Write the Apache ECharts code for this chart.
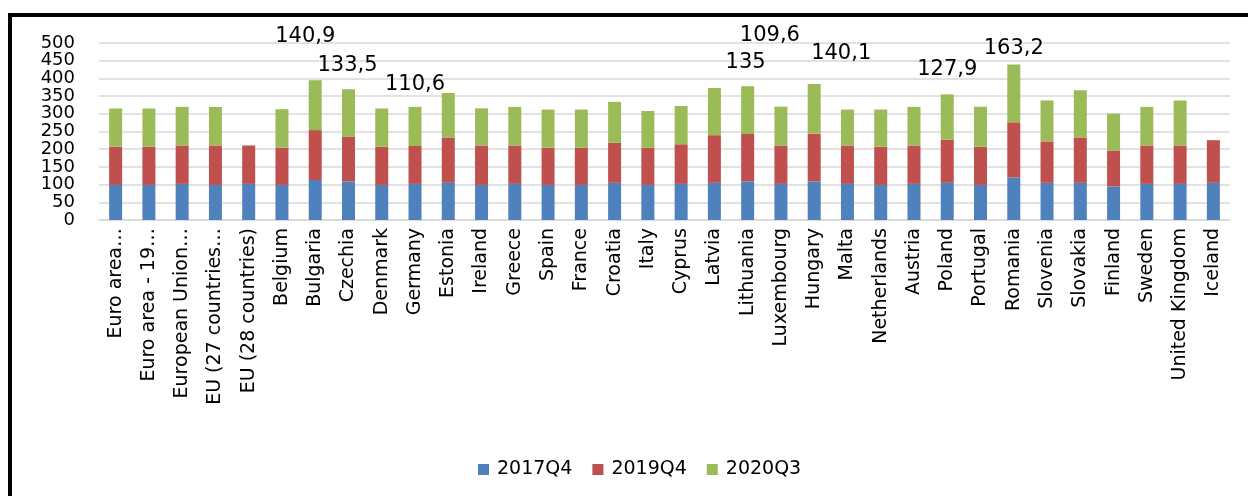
<!DOCTYPE html>
<html>
<head>
<meta charset="utf-8">
<script src="https://cdn.jsdelivr.net/npm/echarts@6/dist/echarts.min.js"></script>
<style>
  html, body { margin: 0; padding: 0; background: #fff; }
  #frame { position: absolute; left: 8px; top: 13px; width: 1260px; height: 500px;
           border-left: 4px solid #000; border-top: 4px solid #000; box-sizing: border-box; }
  #chart { position: absolute; left: 0; top: 0; width: 1248px; height: 496px; }
</style>
</head>
<body>
<div id="frame"></div>
<div id="chart"></div>
<script>
// ---- data ----
const categories = [
  'Euro area…', 'Euro area - 19…', 'European Union…', 'EU (27 countries…', 'EU (28 countries)',
  'Belgium', 'Bulgaria', 'Czechia', 'Denmark', 'Germany', 'Estonia', 'Ireland', 'Greece',
  'Spain', 'France', 'Croatia', 'Italy', 'Cyprus', 'Latvia', 'Lithuania', 'Luxembourg',
  'Hungary', 'Malta', 'Netherlands', 'Austria', 'Poland', 'Portugal', 'Romania', 'Slovenia',
  'Slovakia', 'Finland', 'Sweden', 'United Kingdom', 'Iceland'
];
const seriesNames = ['2017Q4', '2019Q4', '2020Q3'];
const values2017Q4 = [
  99, 99, 102, 99, 102,
  99, 113, 109, 99, 102, 105, 99, 102,
  99, 99, 105, 99, 102, 105, 109, 102,
  109, 102, 99, 102, 105, 99, 120, 105,
  105, 95, 102, 102, 105
];
const values2019Q4 = [
  108, 108, 108.5, 111.5, 108.5,
  105, 141, 127, 108, 107, 128, 111.5, 108.5,
  105, 105, 113, 105, 112, 134.6, 134, 108.5,
  135, 108.5, 108, 108.5, 122, 108, 156, 117,
  128, 101.5, 108.5, 108.5, 120.5
];
const values2020Q3 = [
  108, 108, 109, 109, null,
  109, 140.9, 133.5, 108, 110.6, 126, 105, 109,
  108, 108, 115.6, 104, 108, 133.4, 135, 109.6,
  140.1, 101.5, 105, 109, 127.9, 113, 163.2, 115.7,
  133.5, 104, 109, 127, null
];
const annotated = ['Bulgaria', 'Czechia', 'Germany', 'Lithuania', 'Luxembourg', 'Hungary', 'Poland', 'Romania'];
const yTicks = { min: 0, max: 500, interval: 50 };

// ---- layout of annotation labels (offsets of label centre from bar top centre, px) ----
const labelOffsets = {
  'Bulgaria': [-10, -44], 'Czechia': [-1, -24], 'Germany': [0, -22], 'Lithuania': [-2, -24],
  'Luxembourg': [-11, -71], 'Hungary': [27, -30], 'Poland': [0, -25], 'Romania': [0, -16]
};

const colors = ['#4F81BD', '#C0504D', '#9BBB59'];
const FONT = 'DejaVu Sans';
const BAR_W = 13;

const chart = echarts.init(document.getElementById('chart'), null, { renderer: 'canvas' });

const greenData = values2020Q3.map((v, i) => {
  const cat = categories[i];
  if (annotated.includes(cat) && v != null) {
    const off = labelOffsets[cat];
    return {
      value: v,
      label: {
        show: true,
        position: [BAR_W / 2 + off[0], off[1]],
        align: 'center',
        verticalAlign: 'middle',
        formatter: (p) => String(p.value).replace('.', ','),
        fontFamily: FONT,
        fontSize: 21,
        color: '#000'
      }
    };
  }
  return v;
});

const yLabelStyle = { margin: 24, fontFamily: FONT, fontSize: 18, color: '#000' };

const option = {
  animation: false,
  color: colors,
  grid: { left: 99, right: 18, top: 43, bottom: 276, containLabel: false },
  legend: {
    data: seriesNames,
    left: 473,
    top: 455,
    itemWidth: 11,
    itemHeight: 11,
    itemGap: 20,
    icon: 'rect',
    textStyle: { fontFamily: FONT, fontSize: 19, color: '#000', padding: [0, 0, 0, 3] }
  },
  xAxis: {
    type: 'category',
    data: categories,
    axisLine: { show: true, lineStyle: { color: '#d9d9d9', width: 1.5 } },
    axisTick: { show: false },
    axisLabel: {
      rotate: 90,
      interval: 0,
      margin: 8,
      fontFamily: FONT,
      fontSize: 19,
      color: '#000'
    }
  },
  yAxis: [
    {
      type: 'value',
      position: 'left',
      min: yTicks.min,
      max: yTicks.max,
      interval: yTicks.interval,
      axisLine: { show: false },
      axisTick: { show: false },
      splitLine: { lineStyle: { color: '#d9d9d9', width: 1.5 } },
      axisLabel: Object.assign({ showMinLabel: false, showMaxLabel: false }, yLabelStyle)
    },
    {
      // carries only the end labels (0 and 500), which the first axis drops
      type: 'value',
      position: 'left',
      offset: 0,
      min: yTicks.min,
      max: yTicks.max,
      interval: yTicks.interval,
      axisLine: { show: false },
      axisTick: { show: false },
      splitLine: { show: false },
      axisLabel: Object.assign({
        showMinLabel: true, showMaxLabel: true,
        formatter: (v) => (v === yTicks.min || v === yTicks.max) ? String(v) : ''
      }, yLabelStyle)
    }
  ],
  series: [
    { name: seriesNames[0], type: 'bar', stack: 'total', barWidth: BAR_W, yAxisIndex: 0, data: values2017Q4 },
    { name: seriesNames[1], type: 'bar', stack: 'total', barWidth: BAR_W, yAxisIndex: 0, data: values2019Q4 },
    { name: seriesNames[2], type: 'bar', stack: 'total', barWidth: BAR_W, yAxisIndex: 0, data: greenData }
  ]
};
chart.setOption(option);
</script>
</body>
</html>
